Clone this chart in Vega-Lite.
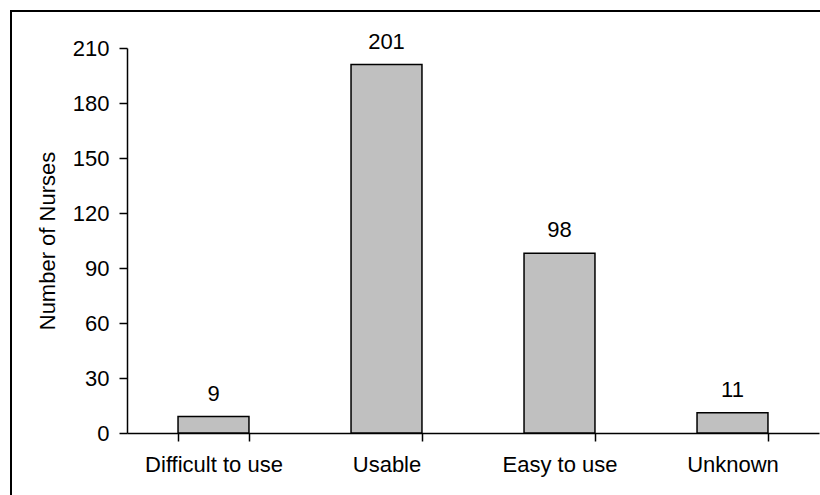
{
  "$schema": "https://vega.github.io/schema/vega-lite/v6.json",
  "autosize": "none",
  "width": 809,
  "height": 484,
  "padding": {"left": 11, "top": 11, "right": 0, "bottom": 0},
  "background": "white",
  "config": {
    "view": {"stroke": "black", "strokeWidth": 2, "strokeDash": [809, 1293, 484]},
    "font": "Liberation Sans"
  },
  "data": {
    "values": [
      {"category": "Difficult to use", "nurses": 9},
      {"category": "Usable", "nurses": 201},
      {"category": "Easy to use", "nurses": 98},
      {"category": "Unknown", "nurses": 11}
    ]
  },
  "encoding": {
    "x": {
      "field": "category",
      "type": "nominal",
      "sort": null,
      "scale": {"range": [116, 808], "paddingInner": 0.59, "paddingOuter": 0.295},
      "axis": {
        "title": null,
        "offset": -62,
        "tickBand": "extent",
        "tickSize": 8,
        "tickWidth": 1.5,
        "tickColor": "black",
        "domainColor": "black",
        "domainWidth": 1.5,
        "labelPadding": 13,
        "labelAngle": 0,
        "labelFontSize": 22,
        "labelColor": "black",
        "labelOverlap": false,
        "labelLimit": 300,
        "grid": false
      }
    },
    "y": {
      "field": "nurses",
      "type": "quantitative",
      "scale": {"domain": [0, 210], "range": [422, 37], "nice": false},
      "axis": {
        "title": "Number of Nurses",
        "values": [0, 30, 60, 90, 120, 150, 180, 210],
        "offset": -116,
        "tickSize": 8,
        "tickWidth": 1.5,
        "tickColor": "black",
        "domainColor": "black",
        "domainWidth": 1.5,
        "labelPadding": 10,
        "labelFontSize": 22,
        "labelColor": "black",
        "titleFontSize": 22,
        "titleFontWeight": "normal",
        "titleColor": "black",
        "titlePadding": 13,
        "grid": false
      }
    }
  },
  "layer": [
    {"mark": {"type": "bar", "fill": "#C0C0C0", "stroke": "black", "strokeWidth": 1.5}},
    {
      "mark": {"type": "text", "baseline": "alphabetic", "dy": -16, "fontSize": 22, "color": "black"},
      "encoding": {"text": {"field": "nurses", "type": "quantitative"}}
    }
  ]
}
